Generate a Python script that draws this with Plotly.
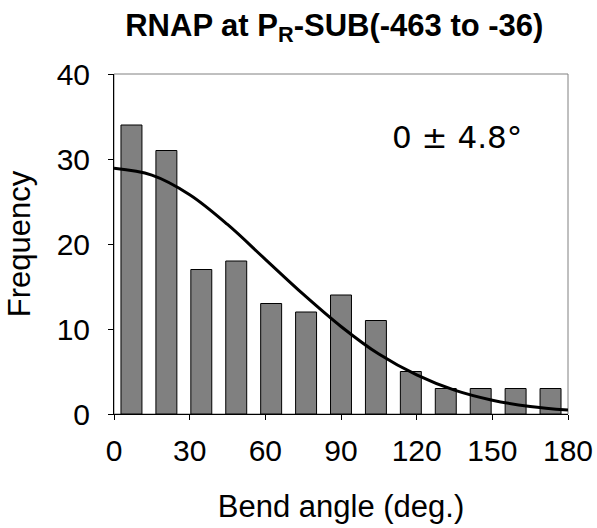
import plotly.graph_objects as go

# Histogram of bend angles (13 bins spanning 0-180 deg)
bin_index = list(range(13))
bin_counts = [34, 31, 17, 18, 13, 12, 14, 11, 5, 3, 3, 3, 3]

# Fitted distribution curve, sampled along the angle axis
fit_angle = [0, 15, 30, 45, 60, 75, 90, 105, 120, 135, 150, 165, 180]
fit_freq = [28.9, 28.1, 25.8, 22.3, 18.2, 14.1, 10.3, 7.05, 4.6, 2.8, 1.62, 0.89, 0.46]

x_ticks = [0, 30, 60, 90, 120, 150, 180]
y_ticks = [0, 10, 20, 30, 40]

FONT = "Liberation Sans, Arial, sans-serif"

fig = go.Figure()

fig.add_trace(go.Bar(
    x=bin_index, y=bin_counts,
    marker=dict(color="#808080", line=dict(color="#000000", width=1)),
    width=0.6, xaxis="x", yaxis="y", showlegend=False, hoverinfo="skip",
))

fig.add_trace(go.Scatter(
    x=fit_angle, y=fit_freq, mode="lines",
    line=dict(color="#000000", width=3, shape="spline", smoothing=1.0),
    xaxis="x2", yaxis="y", showlegend=False, hoverinfo="skip",
))

fig.update_layout(
    width=597, height=528,
    margin=dict(l=114, r=29, t=74, b=114, autoexpand=False),
    paper_bgcolor="#ffffff", plot_bgcolor="#ffffff",
    font=dict(family=FONT, color="#000000"),
    title=dict(
        text="<b>RNAP at P<sub>R</sub>-SUB(-463 to -36)</b>",
        x=0.56, xref="container", xanchor="center",
        y=0.953, yref="container", yanchor="middle",
        font=dict(size=31, family=FONT, color="#000000"),
    ),
    xaxis=dict(
        range=[-0.5, 12.5], visible=False, showgrid=False, zeroline=False,
    ),
    xaxis2=dict(
        overlaying="x", anchor="y", side="bottom", automargin=False,
        range=[0, 180], tickvals=x_ticks, ticktext=[str(v) for v in x_ticks],
        ticks="outside", ticklen=5, tickwidth=1, tickcolor="#000000",
        showline=True, linecolor="#000000", linewidth=1,
        showgrid=False, zeroline=False,
        tickfont=dict(size=30, family=FONT, color="#000000"),
        ticklabelstandoff=5,
        title=dict(text="Bend angle (deg.)", font=dict(size=31, family=FONT, color="#000000"), standoff=29),
    ),
    yaxis=dict(
        range=[0, 40], tickvals=y_ticks, automargin=False,
        ticks="outside", ticklen=5, tickwidth=1, tickcolor="#000000",
        showline=True, linecolor="#000000", linewidth=1,
        showgrid=False, zeroline=False,
        tickfont=dict(size=30, family=FONT, color="#000000"),
        ticklabelstandoff=12,
        title=dict(text="Frequency", font=dict(size=31, family=FONT, color="#000000"), standoff=16),
    ),
    shapes=[dict(
        type="rect", xref="paper", yref="paper", x0=0, x1=1, y0=0, y1=1,
        line=dict(color="#808080", width=1), layer="below",
    )],
    annotations=[dict(
        text="0 ± 4.8°", xref="paper", yref="paper",
        x=(457 - 114) / 454, y=(414 - 137) / 340,
        xanchor="center", yanchor="middle", showarrow=False,
        font=dict(size=31, family="DejaVu Sans, Verdana, sans-serif", color="#000000"),
    )],
    bargap=0.4,
)

fig.write_html("out.html")
